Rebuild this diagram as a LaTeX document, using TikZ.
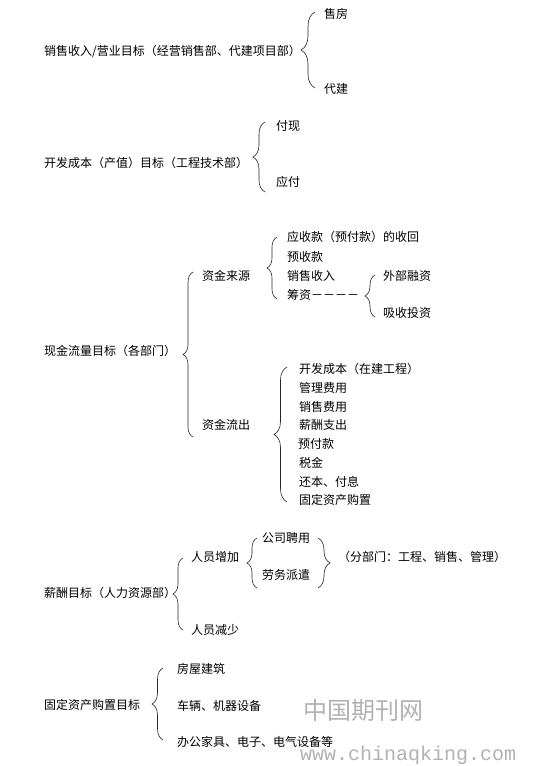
\documentclass[tikz,border=0pt]{standalone}
\usepackage{fontspec}
\newfontfamily\cjk{Noto Sans CJK SC}
\newfontfamily\wmmono{Liberation Mono}
\usetikzlibrary{decorations.pathreplacing}
\tikzset{
  txt/.style={anchor=west, inner sep=0pt, font=\cjk\fontsize{12}{14}\selectfont},
  brc/.style={decorate, decoration={brace, amplitude=#1}, line width=0.6pt, draw=black!85},
  brc/.default=10pt,
  wm/.style={anchor=west, inner sep=0pt, text=black!30}
}
\begin{document}
\begin{tikzpicture}[x=1pt,y=1pt]
\path[use as bounding box, fill=white] (0,0) rectangle (541,-766);

% ---- section 1
\node[txt] (s1) at (44,-51) {销售收入/营业目标（经营销售部、代建项目部）};
\node[txt] (s1a) at (324,-14) {售房};
\node[txt] (s1b) at (324,-89) {代建};
\coordinate (b1t) at (315,-12);
\coordinate (b1b) at (315,-88);
\draw[brc=14pt] (b1b) -- (b1t);

% ---- section 2
\node[txt] (s2) at (44,-163) {开发成本（产值）目标（工程技术部）};
\node[txt] (s2a) at (276,-126) {付现};
\node[txt] (s2b) at (276,-182) {应付};
\coordinate (b2t) at (265,-122);
\coordinate (b2b) at (265,-192);
\draw[brc=12pt] (b2b) -- (b2t);

% ---- section 3
\node[txt] (s3) at (44,-351) {现金流量目标（各部门）};
\coordinate (b3t) at (193,-272);
\coordinate (b3b) at (193,-437);
\draw[brc=10pt] (b3b) -- (b3t);

\node[txt] (in) at (202,-276) {资金来源};
\node[txt] (in1) at (287,-237) {应收款（预付款）的收回};
\node[txt] (in2) at (287,-257) {预收款};
\node[txt] (in3) at (287,-276) {销售收入};
\node[txt] (in4) at (287,-295) {筹资－－－－};
\coordinate (b3at) at (277,-237);
\coordinate (b3ab) at (277,-299);
\draw[brc=10pt] (b3ab) -- (b3at);

\node[txt] (f1) at (383,-276) {外部融资};
\node[txt] (f2) at (383,-313) {吸收投资};
\coordinate (b3bt) at (375,-275);
\coordinate (b3bb) at (375,-317);
\draw[brc=10pt] (b3bb) -- (b3bt);

\node[txt] (out) at (202,-425) {资金流出};
\node[txt] (o1) at (299,-369) {开发成本（在建工程）};
\node[txt] (o2) at (299,-388) {管理费用};
\node[txt] (o3) at (299,-407) {销售费用};
\node[txt] (o4) at (299,-425) {薪酬支出};
\node[txt] (o5) at (298,-444) {预付款};
\node[txt] (o6) at (299,-463) {税金};
\node[txt] (o7) at (299,-482) {还本、付息};
\node[txt] (o8) at (299,-500) {固定资产购置};
\coordinate (b3ct) at (287,-367);
\coordinate (b3cb) at (287,-502);
\draw[brc=13pt] (b3cb) -- (b3ct);

% ---- section 4
\node[txt] (s4) at (44,-593) {薪酬目标（人力资源部）};
\coordinate (b4t) at (183,-558);
\coordinate (b4b) at (183,-630);
\draw[brc=10pt] (b4b) -- (b4t);
\node[txt] (p1) at (191,-557) {人员增加};
\node[txt] (p2) at (191,-630) {人员减少};
\node[txt] (h1) at (262,-538) {公司聘用};
\node[txt] (h2) at (262,-575) {劳务派遣};
\coordinate (b4at) at (257,-538);
\coordinate (b4ab) at (257,-588);
\draw[brc=10pt] (b4ab) -- (b4at);
\coordinate (b4bt) at (318,-538);
\coordinate (b4bb) at (318,-588);
\draw[brc=12pt] (b4bt) -- (b4bb);
\node[txt] (dept) at (338,-557) {（分部门：工程、销售、管理）};

% ---- section 5
\node[txt] (s5) at (44,-705) {固定资产购置目标};
\node[txt] (a1) at (177,-669) {房屋建筑};
\node[txt] (a2) at (177,-706) {车辆、机器设备};
\node[txt] (a3) at (177,-742) {办公家具、电子、电气设备等};
\coordinate (b5t) at (163,-668);
\coordinate (b5b) at (163,-740);
\draw[brc=11pt] (b5b) -- (b5t);

% ---- watermark
\node[wm, font=\cjk\fontsize{24}{26}\selectfont] (wm1) at (303,-710) {中国期刊网};
\node[wm, font=\wmmono\fontsize{20}{22}\selectfont] (wm2) at (300,-755) {www.chinaqking.com};
\end{tikzpicture}
\end{document}
